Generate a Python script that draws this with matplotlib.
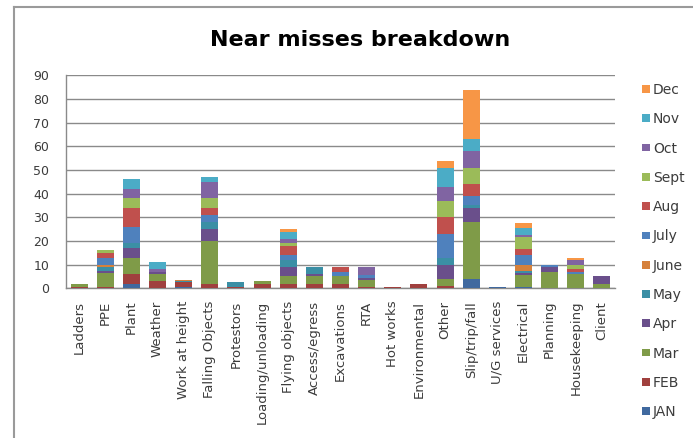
import matplotlib
matplotlib.use("Agg")
import matplotlib.pyplot as plt
import numpy as np
from matplotlib.lines import Line2D

plt.rcParams['font.family'] = ['DejaVu Sans']

categories = ["Ladders", "PPE", "Plant", "Weather", "Work at height", "Falling Objects",
              "Protestors", "Loading/unloading", "Flying objects", "Access/egress",
              "Excavations", "RTA", "Hot works", "Environmental", "Other",
              "Slip/trip/fall", "U/G services", "Electrical", "Planning",
              "Housekeeping", "Client"]

months = ["JAN", "FEB", "Mar", "Apr", "May", "June", "July", "Aug", "Sept", "Oct", "Nov", "Dec"]

jan  = [0, 0, 2, 0, 0.5, 0, 0, 0, 0, 0, 0, 0, 0, 0, 0, 4, 0.5, 0.5, 0, 0, 0]
feb  = [0.5, 0.5, 4, 3, 2, 2, 0.5, 2, 2, 2, 2, 0.5, 0.5, 2, 1, 0, 0, 0, 0, 0, 0]
mar  = [1.5, 6, 7, 3, 0, 18, 0, 1, 3, 3, 3, 3, 0, 0, 3, 24, 0, 5, 7, 6, 2]
apr  = [0, 1, 4, 1, 0, 5, 0, 0, 4, 1, 0, 1, 0, 0, 6, 6, 0, 1, 2, 0, 3]
may  = [0, 1.5, 2, 0, 0.5, 3, 2, 0, 3, 3, 0, 0, 0, 0, 3, 1, 0, 1, 0, 0, 0]
june = [0, 1, 0, 0, 0.5, 0, 0, 0, 0, 0, 0, 0, 0, 0, 0, 0, 0, 2.5, 0, 0, 0]
july = [0, 3, 7, 0, 0, 3, 0, 0, 2, 0, 2, 1, 0, 0, 10, 4, 0, 4, 1, 1, 0]
aug  = [0, 2, 8, 0, 0, 3, 0, 0, 4, 0, 2, 0, 0, 0, 7, 5, 0, 2.5, 0, 1, 0]
sept = [0, 1, 4, 0, 0, 4, 0, 0, 1, 0, 0, 0, 0, 0, 7, 7, 0, 5, 0, 2, 0]
oct_ = [0, 0, 4, 1, 0, 7, 0, 0, 2, 0, 0, 3.5, 0, 0, 6, 7, 0, 1, 0, 2, 0]
nov  = [0, 0, 4, 3, 0, 2, 0, 0, 3, 0, 0, 0, 0, 0, 8, 5, 0, 3, 0, 0, 0]
dec  = [0, 0, 0, 0, 0, 0, 0, 0, 1, 0, 0, 0, 0, 0, 3, 21, 0, 2, 0, 1, 0]

series = [jan, feb, mar, apr, may, june, july, aug, sept, oct_, nov, dec]
colors = ["#40699F", "#A0403E", "#7F9B48", "#6A4F8B", "#3B8FA5", "#D6813B",
          "#4F81BD", "#C0504D", "#9BBB59", "#8064A2", "#4BACC6", "#F79646"]

yticks = [0, 10, 20, 30, 40, 50, 60, 70, 80, 90]

W, H = 693, 438
fig = plt.figure(figsize=(W / 100, H / 100), dpi=100)
ax = fig.add_axes([66 / W, 1 - 288.3 / H, (615 - 66) / W, (288.3 - 75.3) / H])

x = np.arange(len(categories))
bottom = np.zeros(len(categories))
handles = []
for name, vals, c in zip(months, series, colors):
    v = np.array(vals, dtype=float)
    b = ax.bar(x, v, width=0.65, bottom=bottom, color=c, label=name, linewidth=0, zorder=3)
    handles.append(b)
    bottom += v

ax.set_xlim(-0.5, len(categories) - 0.5)
ax.set_ylim(0, 90)
ax.set_yticks(yticks)
ax.set_yticklabels([str(t) for t in yticks])
ax.set_xticks(x)
ax.set_xticklabels(categories, rotation=90)
ax.tick_params(axis='both', length=0, labelcolor='#3c3c3c')
ax.tick_params(axis='y', pad=12, labelsize=9)
ax.tick_params(axis='x', pad=9, labelsize=9.5)
ax.yaxis.grid(True, color='#8a8a8a', linewidth=1.0, zorder=0)
ax.set_axisbelow(True)
for s in ['top', 'right']:
    ax.spines[s].set_visible(False)
for s in ['left', 'bottom']:
    ax.spines[s].set_color('#8a8a8a')
    ax.spines[s].set_linewidth(1.0)

fig.text(360 / W, 1 - 40 / H, "Near misses breakdown", ha='center', va='center',
         fontsize=16, fontweight='bold', color='black')

leg = fig.legend(handles[::-1], months[::-1], loc='upper left',
                 bbox_to_anchor=(641.5 / W, 1 - 83 / H), frameon=False,
                 fontsize=10, handlelength=0.58, handleheight=0.48,
                 handletextpad=0.25, labelspacing=1.10, borderpad=0, borderaxespad=0)
for t in leg.get_texts():
    t.set_color('#3c3c3c')

# outer chart border
fig.add_artist(Line2D([14 / W, 14 / W], [1 - 7 / H, 0], transform=fig.transFigure,
                      color='#9a9a9a', linewidth=1.5))
fig.add_artist(Line2D([14 / W, 1], [1 - 7 / H, 1 - 7 / H], transform=fig.transFigure,
                      color='#9a9a9a', linewidth=1.5))

fig.savefig("out.png", dpi=100)
